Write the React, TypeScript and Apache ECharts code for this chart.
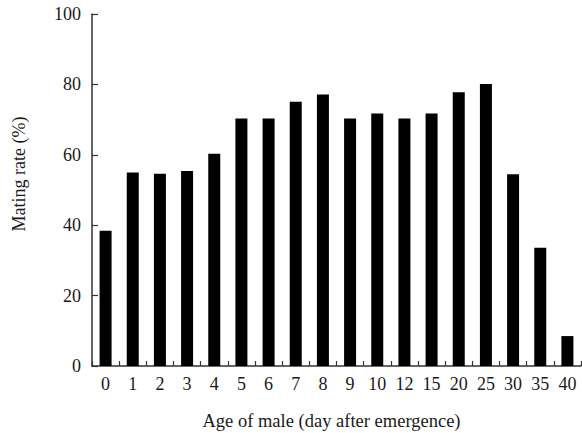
import React, { useEffect, useRef } from "react";
import * as echarts from "echarts";

const categories = ["0", "1", "2", "3", "4", "5", "6", "7", "8", "9", "10", "12", "15", "20", "25", "30", "35", "40"];
const matingRate = [38.4, 55, 54.6, 55.4, 60.3, 70.3, 70.3, 75.1, 77.1, 70.3, 71.7, 70.3, 71.7, 77.8, 80.1, 54.5, 33.6, 8.5];
const yTicks = { min: 0, max: 100, interval: 20 };
const xTitle = "Age of male (day after emergence)";
const yTitle = "Mating rate (%)";

const FONT = "'Liberation Serif', 'Times New Roman', serif";

export default function App() {
  const ref = useRef<HTMLDivElement>(null);
  useEffect(() => {
    if (!ref.current) return;
    const chart = echarts.init(ref.current, null, { renderer: "svg" });
    chart.setOption({
      animation: false,
      backgroundColor: "#ffffff",
      grid: { left: 92, right: 1, top: 14, bottom: 67, containLabel: false },
      xAxis: {
        type: "category",
        data: categories,
        axisLine: { show: true, lineStyle: { color: "#333", width: 1.5 } },
        axisTick: { show: true, inside: true, length: 5, alignWithLabel: false, lineStyle: { color: "#333", width: 1.2 } },
        axisLabel: { fontFamily: FONT, fontSize: 18, color: "#1a1a1a", margin: 9, interval: 0 },
        splitLine: { show: false },
      },
      yAxis: {
        type: "value",
        min: yTicks.min,
        max: yTicks.max,
        interval: yTicks.interval,
        axisLine: { show: true, lineStyle: { color: "#333", width: 1.5 } },
        axisTick: { show: true, inside: true, length: 6, lineStyle: { color: "#333", width: 1.2 } },
        axisLabel: { fontFamily: FONT, fontSize: 18, color: "#1a1a1a", margin: 11 },
        splitLine: { show: false },
      },
      graphic: [
        {
          type: "text",
          x: 331.5,
          y: 421,
          style: {
            text: xTitle,
            font: `18.5px ${FONT}`,
            fill: "#1a1a1a",
            textAlign: "center",
            textVerticalAlign: "middle",
          },
        },
        {
          type: "text",
          x: 19,
          y: 174,
          rotation: Math.PI / 2,
          style: {
            text: yTitle,
            font: `18px ${FONT}`,
            fill: "#1a1a1a",
            textAlign: "center",
            textVerticalAlign: "middle",
          },
        },
      ],
      series: [
        {
          type: "bar",
          data: matingRate,
          barWidth: 12,
          itemStyle: { color: "#000000" },
        },
      ],
    });
    return () => chart.dispose();
  }, []);
  return <div ref={ref} style={{ position: "absolute", left: 0, top: 0, width: 582, height: 433 }} />;
}
